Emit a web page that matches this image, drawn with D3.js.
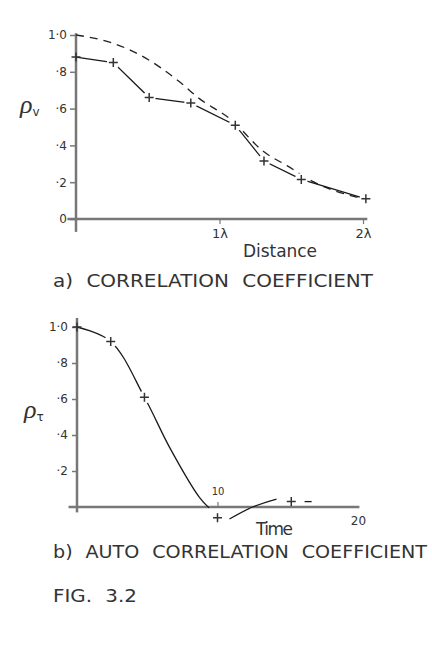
<!DOCTYPE html>
<html>
<head>
<meta charset="utf-8">
<script src="https://cdn.jsdelivr.net/npm/d3@7"></script>
<style>
  body { margin: 0; background: #fff; }
  text { font-family: "DejaVu Sans", sans-serif; fill: #333; }
  .axis path, .axis line { stroke: #777; }
</style>
</head>
<body>
<script>
// --- data ---
// a) correlation coefficient vs distance (in wavelengths)
const distA = [0, 0.26, 0.51, 0.80, 1.11, 1.31, 1.57, 2.02];
const rhoA  = [0.88, 0.85, 0.66, 0.63, 0.51, 0.315, 0.215, 0.11];
// dashed theoretical curve
const dashDist = [0, 0.24, 0.45, 0.73, 0.85, 1.08, 1.31, 1.47, 1.66, 2.0];
const dashRho  = [1.0, 0.96, 0.89, 0.74, 0.66, 0.54, 0.365, 0.29, 0.20, 0.11];
const ticksA = [0, 0.2, 0.4, 0.6, 0.8, 1.0];
const tickLabelsA = ['0', '·2', '·4', '·6', '·8', '1·0'];

// b) auto correlation coefficient vs time
const timeB = [0, 2.4, 4.8, 10, 15.25];
const rhoB  = [1.0, 0.92, 0.61, -0.06, 0.03];
// traced line pieces
const line1T = [0, 2.4, 4.8, 6.6, 8.7, 9.4];
const line1R = [1.0, 0.92, 0.61, 0.33, 0.055, -0.005];
const line2T = [10.85, 12.5, 14.2];
const line2R = [-0.067, 0, 0.044];
const tailT = [16.2, 16.7];
const tailR = [0.03, 0.03];
const ticksB = [0.2, 0.4, 0.6, 0.8, 1.0];
const tickLabelsB = ['·2', '·4', '·6', '·8', '1·0'];

const svg = d3.select('body').append('svg')
  .attr('width', 432)
  .attr('height', 647);
const defs = svg.append('defs');

const zip = (xs, ys) => xs.map((x, i) => [x, ys[i]]);

// mask that cuts the data lines short around each marker (like the hand drawing)
function gapMask(id, pts, x, y) {
  const m = defs.append('mask').attr('id', id)
    .attr('maskUnits', 'userSpaceOnUse')
    .attr('x', 0).attr('y', 0).attr('width', 432).attr('height', 647);
  m.append('rect').attr('width', 432).attr('height', 647).attr('fill', '#fff');
  m.selectAll('circle')
    .data(pts.filter(d => d[0] > 0))
    .join('circle')
    .attr('cx', d => x(d[0]))
    .attr('cy', d => y(d[1]))
    .attr('r', 6.5)
    .attr('fill', '#000');
}

function cross(g, pts, x, y) {
  g.selectAll('.mk')
    .data(pts)
    .join('path')
    .attr('class', 'mk')
    .attr('transform', d => `translate(${x(d[0])},${y(d[1])})`)
    .attr('d', 'M-4.5,0H4.5M0,-4.5V4.5')
    .attr('stroke', '#333')
    .attr('stroke-width', 1.5)
    .attr('fill', 'none');
}

// ================= chart a =================
const xA = d3.scaleLinear().domain([0, 2]).range([76, 363]);
const yA = d3.scaleLinear().domain([0, 1]).range([219, 35]);
const gA = svg.append('g');

// axis lines
gA.append('line')
  .attr('x1', xA(-0.06)).attr('x2', xA(2.03))
  .attr('y1', yA(0)).attr('y2', yA(0))
  .attr('stroke', '#777').attr('stroke-width', 2.5);
gA.append('line')
  .attr('x1', xA(0)).attr('x2', xA(0))
  .attr('y1', yA(-0.07)).attr('y2', yA(1.01))
  .attr('stroke', '#777').attr('stroke-width', 2.5);

gA.append('g')
  .attr('class', 'axis')
  .attr('transform', `translate(${xA(0)},0)`)
  .call(d3.axisLeft(yA).tickValues(ticksA)
    .tickFormat((d, i) => tickLabelsA[i]).tickSize(6).tickPadding(3))
  .call(g => g.select('.domain').remove())
  .call(g => g.selectAll('line').attr('stroke-width', 1.5))
  .call(g => g.selectAll('text').attr('font-size', 12).attr('fill', '#333'));

gA.append('g')
  .attr('class', 'axis')
  .attr('transform', `translate(0,${yA(0)})`)
  .call(d3.axisBottom(xA).tickValues([1, 2])
    .tickFormat(d => d + 'λ').tickSize(5).tickPadding(5))
  .call(g => g.select('.domain').remove())
  .call(g => g.selectAll('line').attr('stroke-width', 1.2))
  .call(g => g.selectAll('text').attr('font-size', 13).attr('fill', '#333'));

gapMask('gapA', zip(distA, rhoA), xA, yA);
const linesA = gA.append('g').attr('mask', 'url(#gapA)');

// dashed curve
linesA.append('path')
  .datum(zip(dashDist, dashRho))
  .attr('d', d3.line().x(d => xA(d[0])).y(d => yA(d[1])).curve(d3.curveMonotoneX))
  .attr('fill', 'none')
  .attr('stroke', '#222')
  .attr('stroke-width', 1.3)
  .attr('stroke-dasharray', '8,6');

// measured line
linesA.append('path')
  .datum(zip(distA, rhoA))
  .attr('d', d3.line().x(d => xA(d[0])).y(d => yA(d[1])))
  .attr('fill', 'none')
  .attr('stroke', '#1a1a1a')
  .attr('stroke-width', 1.3);

cross(gA, zip(distA, rhoA), xA, yA);

gA.append('text')
  .attr('x', 243).attr('y', 257)
  .attr('font-size', 17)
  .attr('textLength', 74)
  .text('Distance');

gA.append('text')
  .attr('x', 20).attr('y', 113)
  .style('font-family', '"Liberation Serif", serif')
  .style('font-style', 'italic')
  .attr('font-size', 26)
  .text('ρ')
  .append('tspan')
  .attr('font-size', 12)
  .attr('dy', 3)
  .style('font-style', 'normal')
  .style('font-family', '"DejaVu Sans", sans-serif')
  .text('v');

svg.append('text')
  .attr('x', 53).attr('y', 287)
  .attr('font-size', 17)
  .attr('textLength', 320)
  .attr('lengthAdjust', 'spacingAndGlyphs')
  .attr('word-spacing', 6)
  .text('a) CORRELATION COEFFICIENT');

// ================= chart b =================
const xB = d3.scaleLinear().domain([0, 20]).range([77, 358]);
const yB = d3.scaleLinear().domain([0, 1]).range([507, 327]);
const gB = svg.append('g');

gB.append('line')
  .attr('x1', xB(-0.6)).attr('x2', xB(20.1))
  .attr('y1', yB(0)).attr('y2', yB(0))
  .attr('stroke', '#777').attr('stroke-width', 2.5);
gB.append('line')
  .attr('x1', xB(0)).attr('x2', xB(0))
  .attr('y1', yB(-0.03)).attr('y2', yB(1.05))
  .attr('stroke', '#777').attr('stroke-width', 2.5);

gB.append('g')
  .attr('class', 'axis')
  .attr('transform', `translate(${xB(0)},0)`)
  .call(d3.axisLeft(yB).tickValues(ticksB)
    .tickFormat((d, i) => tickLabelsB[i]).tickSize(5).tickPadding(4))
  .call(g => g.select('.domain').remove())
  .call(g => g.selectAll('line').attr('stroke-width', 1.5))
  .call(g => g.selectAll('text').attr('font-size', 12).attr('fill', '#333'));

gB.append('g')
  .attr('class', 'axis')
  .attr('transform', `translate(0,${yB(0)})`)
  .call(d3.axisTop(xB).tickValues([10]).tickSize(5).tickPadding(7))
  .call(g => g.select('.domain').remove())
  .call(g => g.selectAll('line').attr('stroke-width', 1.2))
  .call(g => g.selectAll('text').attr('font-size', 10).attr('fill', '#333'));

gB.append('g')
  .attr('class', 'axis')
  .attr('transform', `translate(0,${yB(0)})`)
  .call(d3.axisBottom(xB).tickValues([20]).tickSize(0).tickPadding(9))
  .call(g => g.select('.domain').remove())
  .call(g => g.selectAll('text').attr('font-size', 12).attr('fill', '#333'));

gapMask('gapB', zip(timeB, rhoB), xB, yB);
const linesB = gB.append('g').attr('mask', 'url(#gapB)');

const lineB = d3.line().x(d => xB(d[0])).y(d => yB(d[1])).curve(d3.curveCatmullRom.alpha(0.5));
[zip(line1T, line1R), zip(line2T, line2R), zip(tailT, tailR)].forEach(seg => {
  linesB.append('path')
    .datum(seg)
    .attr('d', lineB)
    .attr('fill', 'none')
    .attr('stroke', '#1a1a1a')
    .attr('stroke-width', 1.3);
});

cross(gB, zip(timeB, rhoB), xB, yB);

gB.append('text')
  .attr('x', 256).attr('y', 535)
  .attr('font-size', 17)
  .attr('textLength', 37)
  .text('Time');

gB.append('text')
  .attr('x', 24).attr('y', 418)
  .style('font-family', '"Liberation Serif", serif')
  .style('font-style', 'italic')
  .attr('font-size', 26)
  .text('ρ')
  .append('tspan')
  .attr('font-size', 12)
  .attr('dy', 3)
  .style('font-style', 'normal')
  .style('font-family', '"DejaVu Sans", sans-serif')
  .text('τ');

svg.append('text')
  .attr('x', 53).attr('y', 558)
  .attr('font-size', 17)
  .attr('textLength', 374)
  .attr('lengthAdjust', 'spacingAndGlyphs')
  .attr('word-spacing', 6)
  .text('b) AUTO CORRELATION COEFFICIENT');

svg.append('text')
  .attr('x', 53).attr('y', 602)
  .attr('font-size', 17)
  .attr('textLength', 84)
  .attr('lengthAdjust', 'spacingAndGlyphs')
  .attr('word-spacing', 6)
  .text('FIG. 3.2');
</script>
</body>
</html>
